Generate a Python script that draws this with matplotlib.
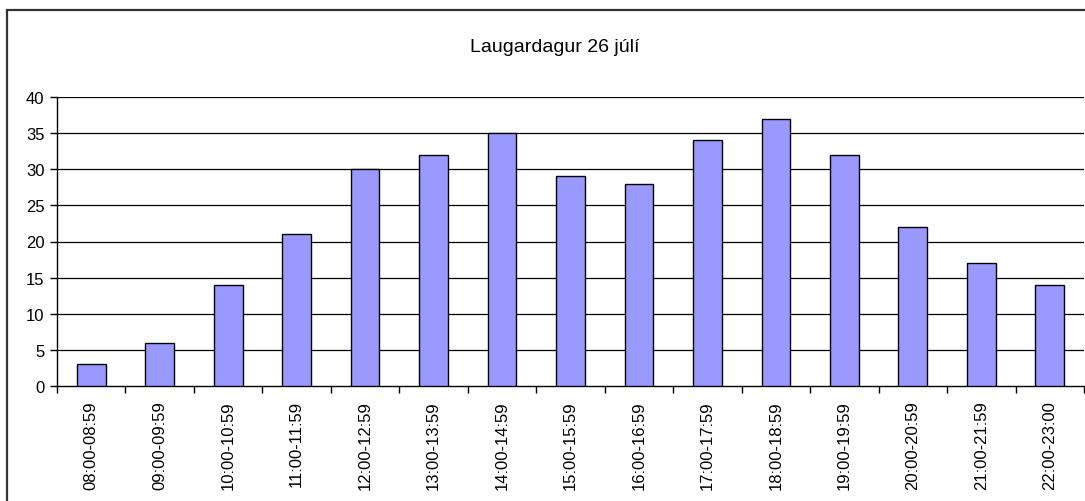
import matplotlib
matplotlib.use("Agg")
import numpy as np
import matplotlib.pyplot as plt
from matplotlib.patches import Rectangle

title = "Laugardagur 26 júlí"
hours = ["08:00-08:59", "09:00-09:59", "10:00-10:59", "11:00-11:59", "12:00-12:59",
         "13:00-13:59", "14:00-14:59", "15:00-15:59", "16:00-16:59", "17:00-17:59",
         "18:00-18:59", "19:00-19:59", "20:00-20:59", "21:00-21:59", "22:00-23:00"]
counts = [3, 6, 14, 21, 30, 32, 35, 29, 28, 34, 37, 32, 22, 17, 14]
yticks = [0, 5, 10, 15, 20, 25, 30, 35, 40]

plt.rcParams['font.family'] = ['Liberation Sans', 'DejaVu Sans']

W, H = 1085, 502
fig = plt.figure(figsize=(W / 100, H / 100), dpi=100, facecolor='white')

# outer chart border (only top/left visible in the reference)
fig.patches.append(Rectangle((7 / W, -0.1), 1.2, 1 - 11 / H + 0.1, transform=fig.transFigure,
                             fill=False, edgecolor='#333333', linewidth=1.6))

ax = fig.add_axes([57 / W, 1 - 387 / H, (1084 - 57) / W, (387 - 98) / H])
x = np.arange(len(hours))
ax.bar(x, counts, width=0.42, color='#9999ff', edgecolor='black', linewidth=1.0, zorder=3)

ax.set_xlim(-0.5, len(hours) - 0.5)
ax.set_ylim(0, 40)
ax.set_yticks(yticks)
for y in yticks[1:]:
    ax.axhline(y, color='black', linewidth=0.9, zorder=1)

ax.set_xticks(x)
ax.set_xticklabels(hours, rotation=90, fontsize=12)
ax.set_xticks(np.arange(len(hours) + 1) - 0.5, minor=True)
ax.tick_params(axis='x', which='major', length=0, pad=10)
ax.tick_params(axis='x', which='minor', length=5, width=1, color='black')
ax.tick_params(axis='y', length=5, width=1, labelsize=12, pad=4)

for s in ['top', 'right']:
    ax.spines[s].set_visible(False)
ax.spines['left'].set_linewidth(1)
ax.spines['bottom'].set_linewidth(1)

fig.text(555 / W, 1 - 47 / H, title, ha='center', va='center', fontsize=14)

fig.savefig("out.png", dpi=100, facecolor='white')
